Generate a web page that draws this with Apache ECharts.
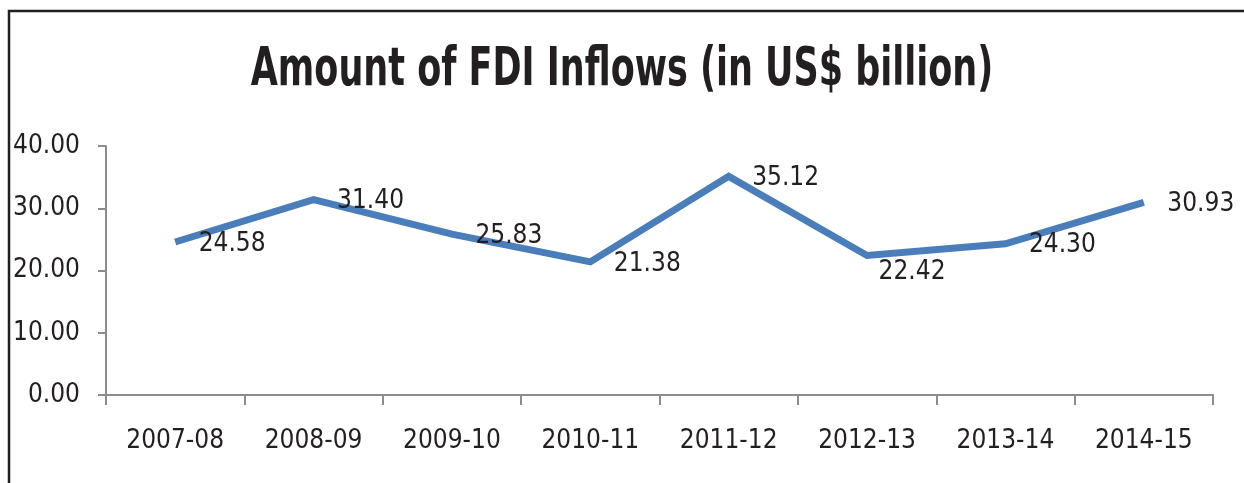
<!DOCTYPE html>
<html>
<head>
<meta charset="utf-8">
<script src="https://cdn.jsdelivr.net/npm/echarts@6/dist/echarts.min.js"></script>
<style>
  html, body { margin: 0; padding: 0; background: #fff; }
  #main { width: 1244px; height: 483px; }
</style>
</head>
<body>
<div id="main"></div>
<script>
const years = ["2007-08", "2008-09", "2009-10", "2010-11", "2011-12", "2012-13", "2013-14", "2014-15"]
const fdiInflows = [24.58, 31.40, 25.83, 21.38, 35.12, 22.42, 24.30, 30.93]

const font = "'Liberation Sans Narrow', 'DejaVu Sans Condensed', sans-serif"
const textColor = "#231f20"
const axisColor = "#8c8c8c"

const chartDom = document.getElementById("main")
const myChart = echarts.init(chartDom)

// the 2012-13 label sits lower than the others in the original
const seriesData = fdiInflows.map(function (v, i) {
  if (years[i] === "2012-13") {
    return { value: v, label: { offset: [-12, 17] } }
  }
  return v
})

const option = {
  animation: false,
  graphic: [
    {
      type: "polyline",
      shape: { points: [[9, 483], [9, 11], [1244, 11]] },
      style: { stroke: "#231f20", lineWidth: 2.5, fill: null }
    },
    {
      // title squeezed horizontally to look like the condensed original
      type: "text",
      x: 622,
      y: 71,
      scaleX: 0.734,
      style: {
        text: "Amount of FDI Inflows (in US$ billion)",
        font: "bold 53px " + font,
        align: "center",
        verticalAlign: "middle",
        fill: textColor
      }
    }
  ],
  grid: {
    left: 106,
    right: 31,
    top: 146,
    bottom: 88
  },
  xAxis: {
    type: "category",
    data: years,
    boundaryGap: true,
    axisLine: { lineStyle: { color: axisColor, width: 2 } },
    axisTick: { show: true, length: 10, interval: 0, lineStyle: { color: axisColor, width: 2 } },
    axisLabel: {
      interval: 0,
      margin: 33,
      fontFamily: font,
      fontSize: 26,
      color: textColor
    }
  },
  yAxis: {
    type: "value",
    min: 0,
    max: 40,
    interval: 10,
    splitLine: { show: false },
    axisLine: { show: true, lineStyle: { color: axisColor, width: 2 } },
    axisTick: { show: true, length: 8, lineStyle: { color: axisColor, width: 2 } },
    axisLabel: {
      margin: 26,
      fontFamily: font,
      fontSize: 26,
      color: textColor,
      formatter: function (v) {
        return v.toFixed(2)
      }
    }
  },
  series: [
    {
      name: "FDI Inflows",
      type: "line",
      data: seriesData,
      symbol: "circle",
      symbolSize: 1,
      showSymbol: true,
      itemStyle: { color: "rgba(0,0,0,0)" },
      lineStyle: { color: "#4a7ebb", width: 7, join: "miter" },
      label: {
        show: true,
        position: "right",
        distance: 23,
        offset: [0, 2],
        fontFamily: font,
        fontSize: 26,
        color: textColor,
        formatter: function (p) {
          return p.value.toFixed(2)
        }
      }
    }
  ]
}

option && myChart.setOption(option)
</script>
</body>
</html>
